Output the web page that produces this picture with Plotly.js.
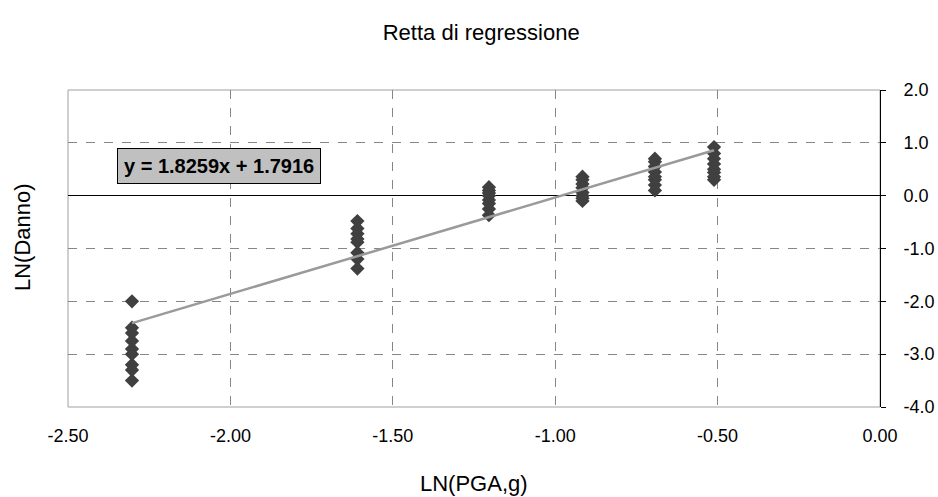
<!DOCTYPE html>
<html>
<head>
<meta charset="utf-8">
<script src="https://cdn.plot.ly/plotly-3.0.1.min.js"></script>
<style>html,body{margin:0;padding:0;background:#fff;}#chart{width:938px;height:497px;}</style>
</head>
<body>
<div id="chart"></div>
<script>
// Observations: ln(PGA) columns and ln(Danno) values
const x01 = [-2.303,-2.303,-2.303,-2.303,-2.303,-2.303,-2.303,-2.303,-2.303];
const y01 = [-2.0,-2.5,-2.6,-2.75,-2.9,-3.0,-3.2,-3.3,-3.5];
const x02 = [-1.609,-1.609,-1.609,-1.609,-1.609,-1.609,-1.609,-1.609];
const y02 = [-0.48,-0.62,-0.72,-0.82,-0.88,-1.08,-1.2,-1.38];
const x03 = [-1.204,-1.204,-1.204,-1.204,-1.204,-1.204,-1.204,-1.204];
const y03 = [0.16,0.1,0.05,0.0,-0.08,-0.15,-0.25,-0.37];
const x04 = [-0.916,-0.916,-0.916,-0.916,-0.916,-0.916,-0.916,-0.916];
const y04 = [0.36,0.3,0.22,0.15,0.06,0.0,-0.05,-0.1];
const x05 = [-0.693,-0.693,-0.693,-0.693,-0.693,-0.693,-0.693,-0.693];
const y05 = [0.7,0.64,0.55,0.45,0.36,0.3,0.2,0.1];
const x06 = [-0.511,-0.511,-0.511,-0.511,-0.511,-0.511,-0.511,-0.511];
const y06 = [0.92,0.8,0.7,0.6,0.5,0.44,0.36,0.3];

// Regression line endpoints
const trendX = [-2.303, -0.511];
const trendY = [-2.413, 0.859];
const equation = "y = 1.8259x + 1.7916";

const xTickVals = [-2.5,-2.0,-1.5,-1.0,-0.5,0.0];
const xTickText = ["-2.50","-2.00","-1.50","-1.00","-0.50","0.00"];
const yTickVals = [2,1,0,-1,-2,-3,-4];
const yTickText = ["2.0","1.0","0.0","-1.0","-2.0","-3.0","-4.0"];

const xs = [].concat(x01,x02,x03,x04,x05,x06);
const ys = [].concat(y01,y02,y03,y04,y05,y06);

const FONT = "Liberation Sans, Arial, sans-serif";

const traces = [
  {x: xs, y: ys, type: 'scatter', mode: 'markers',
   marker: {symbol: 'diamond', size: 11, color: '#404040', line: {width: 0}}},
  {x: trendX, y: trendY, type: 'scatter', mode: 'lines',
   line: {color: '#9a9a9a', width: 2.5}}
];

const layout = {
  width: 938, height: 497,
  margin: {l: 68, r: 58, t: 90, b: 90},
  paper_bgcolor: '#ffffff', plot_bgcolor: '#ffffff',
  showlegend: false,
  font: {family: FONT, color: '#000000', size: 18},
  title: {text: 'Retta di regressione', font: {family: FONT, size: 22, color: '#000'},
          x: 0.513, xanchor: 'center', y: 0.935, yanchor: 'middle'},
  xaxis: {
    range: [-2.5, 0], tickvals: xTickVals, ticktext: xTickText,
    showgrid: true, gridcolor: '#868686', griddash: 'dash', gridwidth: 1,
    zeroline: false, showline: false,
    ticks: 'outside', ticklen: 12, tickcolor: 'rgba(0,0,0,0)',
    tickfont: {family: FONT, size: 18}
  },
  yaxis: {
    range: [-4, 2], side: 'right', tickvals: yTickVals, ticktext: yTickText,
    showgrid: true, gridcolor: '#868686', griddash: 'dash', gridwidth: 1,
    zeroline: true, zerolinecolor: '#000000', zerolinewidth: 1,
    showline: true, linecolor: '#000000', linewidth: 1,
    ticks: 'outside', ticklen: 5, tickcolor: '#000000',
    ticklabelstandoff: 14,
    tickfont: {family: FONT, size: 18}
  },
  shapes: [
    {type: 'rect', xref: 'paper', yref: 'paper', x0: 0, x1: 1, y0: 0, y1: 1,
     line: {color: '#a0a0a0', width: 1}, layer: 'below'}
  ],
  annotations: [
    {text: '<b>' + equation + '</b>', xref: 'x', yref: 'y', x: -2.034, y: 0.571,
     showarrow: false, xanchor: 'center', yanchor: 'middle',
     font: {family: FONT, size: 20, color: '#000'},
     bgcolor: '#c0c0c0', bordercolor: '#000000', borderwidth: 1, borderpad: 6},
    {text: 'LN(PGA,g)', xref: 'paper', yref: 'paper', x: 0.5, y: -0.24,
     xanchor: 'center', yanchor: 'middle', showarrow: false,
     font: {family: FONT, size: 22, color: '#000'}},
    {text: 'LN(Danno)', xref: 'paper', yref: 'paper', x: -0.0567, y: 0.536,
     xanchor: 'center', yanchor: 'middle', textangle: -90, showarrow: false,
     font: {family: FONT, size: 22, color: '#000'}}
  ]
};

Plotly.newPlot('chart', traces, layout, {displayModeBar: false, staticPlot: true});
</script>
</body>
</html>
